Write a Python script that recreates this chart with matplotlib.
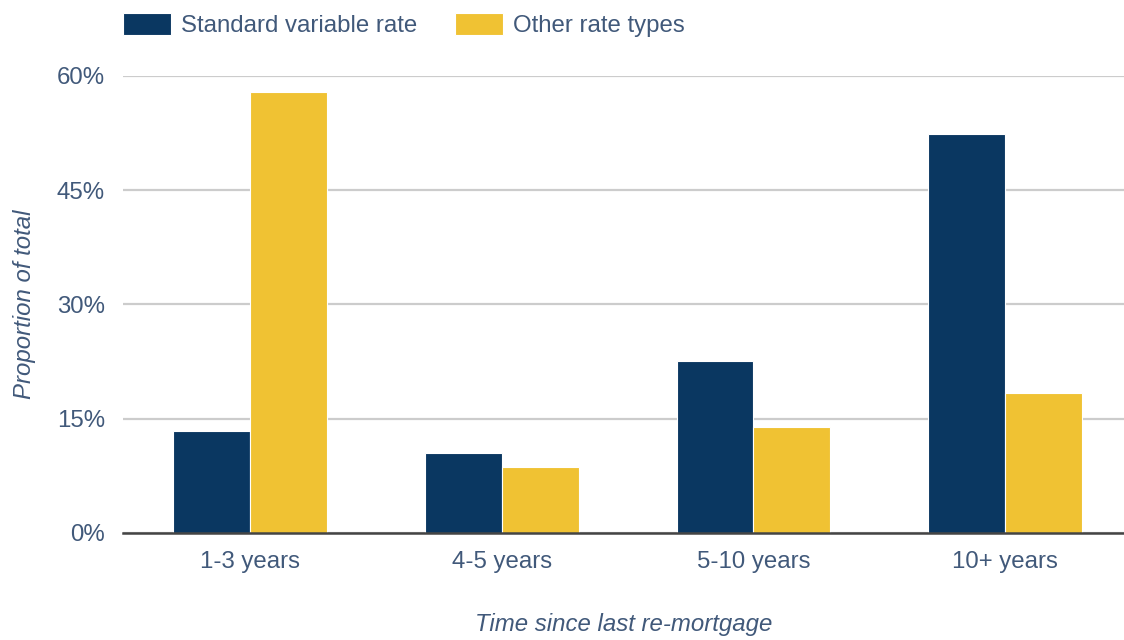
import matplotlib.pyplot as plt
import numpy as np

# Share of mortgages by time since last re-mortgage (%)
periods = ["1-3 years", "4-5 years", "5-10 years", "10+ years"]
standard_variable = [13.4, 10.5, 22.6, 52.4]
other_types = [57.9, 8.7, 13.9, 18.4]
y_ticks = [0, 15, 30, 45, 60]

NAVY = "#0a3761"
YELLOW = "#f0c233"
TEXT = "#41597a"

plt.rcParams["font.family"] = ["Liberation Sans", "DejaVu Sans"]

fig = plt.figure(figsize=(11.24, 6.4), dpi=100)
ax = fig.add_axes([0.1094, 0.1672, 0.8906, 0.7141])

x = np.arange(len(periods))
width = 0.305
ax.bar(x - width / 2, standard_variable, width, color=NAVY, edgecolor="white",
       linewidth=0.8, label="Standard variable rate", zorder=3)
ax.bar(x + width / 2, other_types, width, color=YELLOW, edgecolor="white",
       linewidth=0.8, label="Other rate types", zorder=3)

ax.set_xlim(-0.505, 3.472)
ax.set_ylim(0, 60)
ax.set_yticks(y_ticks)
ax.set_yticklabels([f"{t}%" for t in y_ticks])
ax.set_xticks(x)
ax.set_xticklabels(periods)

ax.grid(axis="y", color="#cccccc", linewidth=1.6, zorder=0)
ax.set_axisbelow(True)
for side in ["top", "right", "left"]:
    ax.spines[side].set_visible(False)
ax.spines["bottom"].set_color("#444444")
ax.spines["bottom"].set_linewidth(1.8)
ax.spines["bottom"].set_zorder(4)

fs = 17.3
ax.tick_params(axis="both", length=0, labelsize=fs, labelcolor=TEXT)
ax.tick_params(axis="y", pad=13)
ax.tick_params(axis="x", pad=13)

ax.set_ylabel("Proportion of total", fontsize=fs, color=TEXT, style="italic")
ax.yaxis.set_label_coords(-87 / 1001, 0.5)
ax.set_xlabel("Time since last re-mortgage", fontsize=fs, color=TEXT, style="italic")
ax.xaxis.set_label_coords(0.5, -80 / 457)

fig.legend(loc="upper left", bbox_to_anchor=(123 / 1124, 1 - 13 / 640), ncol=2,
           frameon=False, fontsize=fs, handlelength=2.0, handleheight=1.0,
           handletextpad=0.42, columnspacing=1.55, borderpad=0, borderaxespad=0,
           labelcolor=TEXT)

fig.savefig("out.png", dpi=100)
